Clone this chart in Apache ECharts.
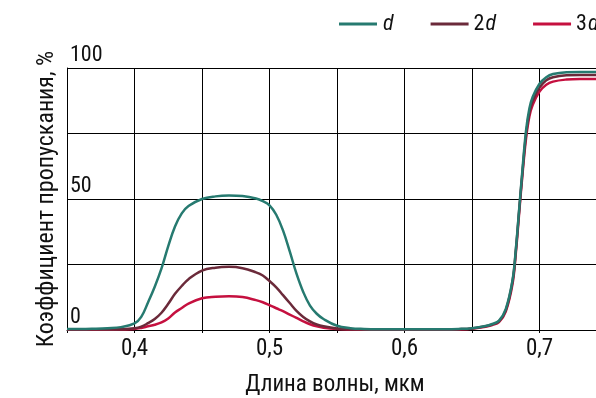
<!DOCTYPE html>
<html><head><meta charset="utf-8">
<script src="https://cdn.jsdelivr.net/npm/echarts@6/dist/echarts.min.js"></script>
<style>html,body{margin:0;padding:0;background:#fff}#c{width:596px;height:398px}</style>
</head><body><div id="c"></div>
<script>
var wavelength = [0.35,0.36,0.37,0.38,0.39,0.40,
  0.405,0.41,0.415,0.42,0.425,0.43,0.435,0.44,
  0.45,0.46,0.47,0.48,0.49,
  0.495,0.50,0.505,0.51,0.515,0.52,0.525,0.53,0.535,0.54,
  0.55,0.56,0.57,0.58,0.59,0.60,0.61,0.62,0.63,0.64,0.65,0.66,
  0.665,0.67,0.675,0.68,
  0.6825,0.685,0.6875,0.69,0.6925,0.695,
  0.70,0.705,0.71,0.72,0.73,0.745];
var seriesD = [0.4,0.4,0.5,0.7,1.1,2.5,
  5,10.5,16.5,23.5,32,39.5,44.5,47.3,
  50,51,51.3,51.1,50.2,
  49.2,47.6,44,38,30,21.5,14.5,9.3,6.2,4.2,
  1.6,0.7,0.4,0.3,0.3,0.3,0.3,0.3,0.3,0.4,0.7,1.5,
  2.3,3.6,8,19,
  31,46.5,62,76,84.5,89,
  94,96.5,97.7,98.4,98.5,98.5];
var series2D = [0.2,0.2,0.2,0.2,0.3,0.7,
  1.3,2.6,4.2,6.6,10,13.8,16.8,19.4,
  22.7,23.8,24.1,23.6,22,
  20.8,18.7,16.3,13.3,10.3,7.3,5,3.3,2.1,1.4,
  0.6,0.3,0.2,0.2,0.2,0.2,0.2,0.2,0.2,0.3,0.6,1.4,
  2.1,3.3,7.5,18.5,
  30.5,46,61,74.5,83,87.5,
  92.5,95.3,96.5,97.2,97.3,97.3];
var series3D = [0.1,0.1,0.1,0.1,0.2,0.4,
  0.8,1.4,2.0,2.9,4.4,6.7,8.4,10.1,
  12.1,12.7,12.9,12.6,11.4,
  10.6,9.5,8.3,7.2,5.9,4.6,3.3,2.2,1.4,0.9,
  0.4,0.2,0.1,0.1,0.1,0.1,0.1,0.1,0.1,0.2,0.5,1.2,
  1.9,3.0,7,17.5,
  29.5,45,60,73,81.5,86,
  91,93.6,94.8,95.6,95.8,95.8];
var seriesNames = ['d', '2d', '3d'];
var xTickLabels = {'40': '0,4', '50': '0,5', '60': '0,6', '70': '0,7'};
var yTickLabels = {'0': '0', '50': '50', '100': '100'};

var FONT = '"Roboto Condensed", "Liberation Sans", sans-serif';
var FS = 22;
function pairs(ys){ return wavelength.map(function(x,i){ return [x, ys[i]]; }); }
function mk(name, ys, color){
  return { name: name, type: 'line', data: pairs(ys), smooth: 0.4,
    showSymbol: false, symbol: 'none', lineStyle: { color: color, width: 2.5 }, itemStyle: { color: color },
    clip: true, animation: false };
}
var chart = echarts.init(document.getElementById('c'));
chart.setOption({
  animation: false,
  backgroundColor: '#fff',
  legend: {
    data: seriesNames, left: 339, top: 13, padding: 0, width: 500, itemWidth: 38, itemHeight: 3, itemGap: 37,
    icon: 'rect',
    textStyle: { fontFamily: FONT, fontSize: FS, color: '#111',
      rich: { n: { fontFamily: FONT, fontSize: FS, color: '#111' }, i: { fontFamily: FONT, fontSize: FS, fontStyle: 'italic', color: '#111', padding: [0, 0, 0, 1] } } },
    formatter: function(n){ var num = n.replace('d',''); return (num ? '{n|' + num + '}' : '') + '{i|d}'; }
  },
  grid: { left: 67, top: 68, width: 540, height: 262, containLabel: false, outerBoundsMode: 'none' },
  xAxis: {
    type: 'value', min: 0.35, max: 0.75, interval: 0.05,
    name: 'Длина волны, мкм', nameLocation: 'middle', nameGap: 44,
    nameTextStyle: { fontFamily: FONT, fontSize: 23, color: '#111', padding: [0, 4, 0, 0] },
    axisLine: { show: true, lineStyle: { color: '#000', width: 1 } },
    axisTick: { show: true, length: 3, lineStyle: { color: '#000' } },
    splitLine: { show: true, lineStyle: { color: '#000', width: 1 } },
    axisLabel: { fontFamily: FONT, fontSize: 23, color: '#111', margin: 8,
      formatter: function(v){ var k = String(Math.round(v*100)); return xTickLabels[k] || ''; } }
  },
  yAxis: {
    type: 'value', min: 0, max: 100, interval: 25,
    name: 'Коэффициент пропускания, %', nameLocation: 'middle', nameGap: 2, nameRotate: 90,
    nameTextStyle: { fontFamily: FONT, fontSize: 24, color: '#111' },
    axisLine: { show: true, lineStyle: { color: '#000', width: 1 } },
    axisTick: { show: false },
    splitLine: { show: true, lineStyle: { color: '#000', width: 1 } },
    axisLabel: { inside: true, fontFamily: FONT, fontSize: FS, color: '#111', margin: 3, verticalAlign: 'bottom', align: 'left', padding: [0, 0, 2, 0],
      formatter: function(v){ return yTickLabels[String(Math.round(v))] || ''; } }
  },
  series: [
    mk('3d', series3D, '#c5103f'),
    mk('2d', series2D, '#6b2a3a'),
    mk('d', seriesD, '#267a70')
  ]
});
</script></body></html>
